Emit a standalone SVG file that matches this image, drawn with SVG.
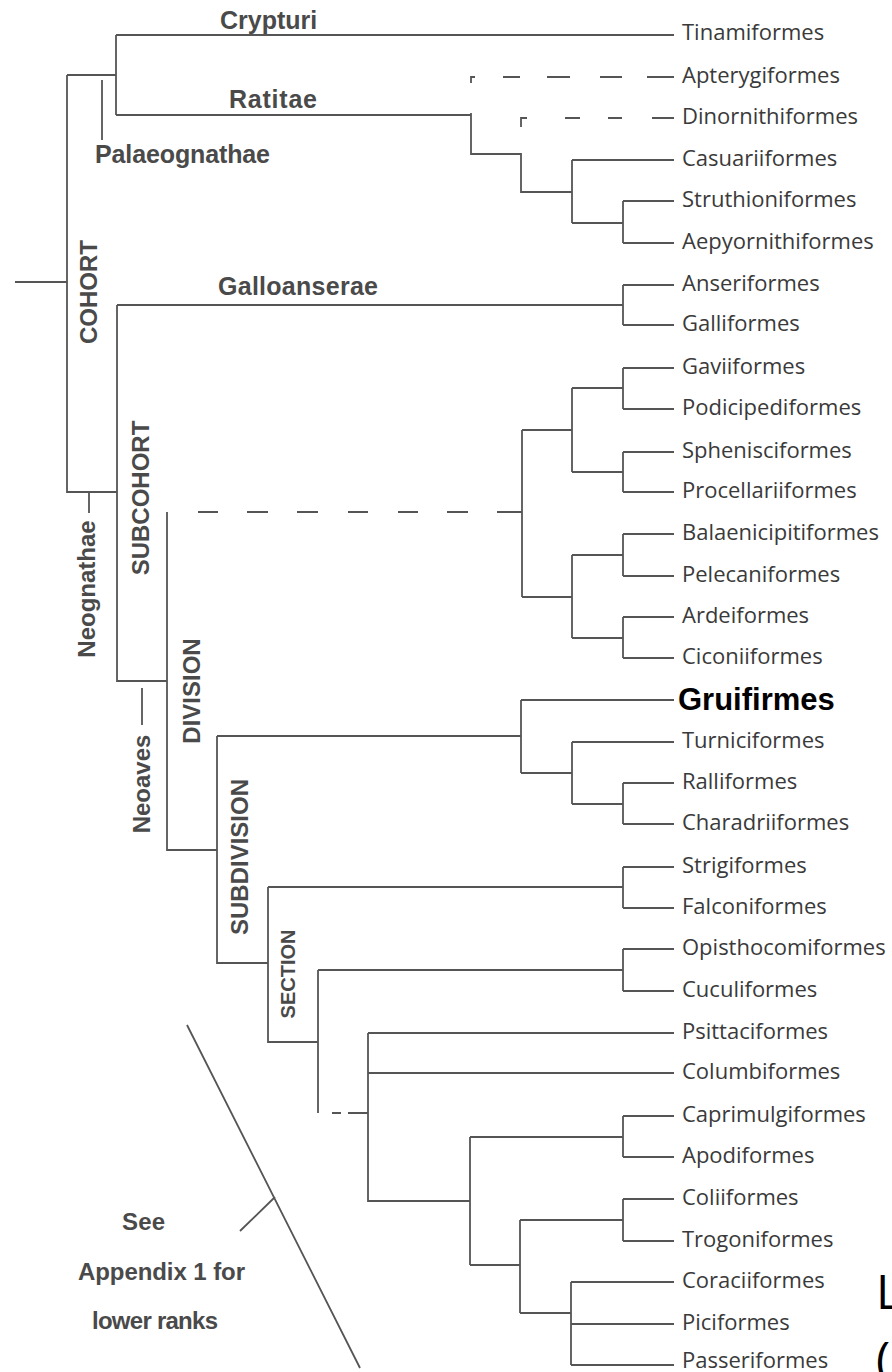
<svg xmlns="http://www.w3.org/2000/svg" width="892" height="1372" viewBox="0 0 892 1372">
<style>
.ln{stroke:#555;stroke-width:1.8;fill:none;stroke-linecap:butt}
.leaf{font-family:"Open Sans","Liberation Sans",sans-serif;font-size:22px;fill:#3a3a3a}
.rank{font-family:"Liberation Sans",Arial,sans-serif;font-weight:bold;font-size:24px;fill:#4a4a4a}
.rankh{font-family:"Liberation Sans",Arial,sans-serif;font-weight:bold;font-size:25px;fill:#4a4a4a}
.big{font-family:"Open Sans","Liberation Sans",sans-serif;font-size:48px;fill:#000}
</style>
<rect width="892" height="1372" fill="#fff"/>
<g id="connectors" class="ln">
<path d="M15,282 H67 M67,75 H116 M67,75 V492 H117 M116,35 V115 M116,35 H674 M116,115 H471 M102,80 V140"/>
<path d="M471,83 V77 H475 M503,77 H520 M547,77 H570 M600,77 H622 M647,77 H674"/>
<path d="M471,113 V154 H521 M521,127 V118 H527 M565,118 H580 M608,118 H622 M652,118 H674"/>
<path d="M521,153 V192 H572 M572,160 V223 M572,160 H674 M572,223 H623 M623,201 V243 M623,201 H674 M623,243 H674"/>
<path d="M117,305 V681 H167 M117,305 H623 M623,285 V325 M623,285 H674 M623,325 H674"/>
<path d="M89,493 V513 M142,688 V725"/>
<path d="M167,512 V850 H217 M198,512 H218 M247,512 H268 M297,512 H318 M348,512 H368 M398,512 H418 M447,512 H468 M497,512 H522"/>
<path d="M522,430 V597 M522,430 H572 M522,597 H572 M572,388 V472 M572,388 H623 M572,472 H623 M623,368 V409 M623,452 V492 M623,368 H674 M623,409 H674 M623,452 H674 M623,492 H674"/>
<path d="M572,555 V638 M572,555 H623 M572,638 H623 M623,534 V576 M623,617 V658 M623,534 H674 M623,576 H674 M623,617 H674 M623,658 H674"/>
<path d="M217,736 V963 H268 M217,736 H521 M521,700 V773 M521,700 H674 M521,773 H572 M572,742 V804 M572,742 H674 M572,804 H623 M623,783 V824 M623,783 H674 M623,824 H674"/>
<path d="M268,887 V1042 H318 M268,887 H623 M623,867 V908 M623,867 H674 M623,908 H674"/>
<path d="M318,970 V1113 M318,970 H623 M623,949 V991 M623,949 H674 M623,991 H674 M332,1113 H341 M348,1113 H368"/>
<path d="M368,1033 V1201 H470 M368,1033 H674 M368,1073 H674"/>
<path d="M470,1137 V1265 M470,1137 H623 M623,1116 V1157 M623,1116 H674 M623,1157 H674"/>
<path d="M470,1265 H520 M520,1220 V1313 M520,1220 H623 M623,1199 V1241 M623,1199 H674 M623,1241 H674"/>
<path d="M520,1313 H571 M571,1282 V1365 M571,1282 H674 M571,1324 H674 M571,1365 H674"/>
<path d="M187,1025 L360,1368 M275,1197 L240,1231"/>
</g>
<g id="ranks">
<g id="crypturi"><text class="rankh" x="220" y="29">Crypturi</text></g>
<g id="ratitae"><text class="rankh" x="229" y="108" textLength="88">Ratitae</text></g>
<g id="palaeognathae"><text class="rankh" x="95" y="163" textLength="175">Palaeognathae</text></g>
<g id="galloanserae"><text class="rankh" x="218" y="295" textLength="160">Galloanserae</text></g>
<g id="cohort"><text class="rank" text-anchor="middle" transform="translate(97,292) rotate(-90)">COHORT</text></g>
<g id="neognathae"><text class="rank" text-anchor="middle" transform="translate(95,589) rotate(-90)">Neognathae</text></g>
<g id="subcohort"><text class="rank" text-anchor="middle" transform="translate(149,498) rotate(-90)">SUBCOHORT</text></g>
<g id="neoaves"><text class="rank" text-anchor="middle" transform="translate(150,784) rotate(-90)">Neoaves</text></g>
<g id="division"><text class="rank" text-anchor="middle" transform="translate(200,691) rotate(-90)">DIVISION</text></g>
<g id="subdivision"><text class="rank" text-anchor="middle" transform="translate(248,857) rotate(-90)">SUBDIVISION</text></g>
<g id="section"><text class="rank" style="font-size:20px" text-anchor="middle" transform="translate(295,974) rotate(-90)">SECTION</text></g>
<g id="note">
<text class="rank" x="122" y="1230" textLength="43">See</text>
<text class="rank" x="78" y="1280" textLength="167">Appendix 1 for</text>
<text class="rank" x="92" y="1329" textLength="126">lower ranks</text>
</g>
</g>
<g id="leaves">
<g id="n-tinamiformes"><text class="leaf" x="682" y="40">Tinamiformes</text></g>
<g id="n-apterygiformes"><text class="leaf" x="682" y="83">Apterygiformes</text></g>
<g id="n-dinornithiformes"><text class="leaf" x="682" y="124">Dinornithiformes</text></g>
<g id="n-casuariiformes"><text class="leaf" x="682" y="166">Casuariiformes</text></g>
<g id="n-struthioniformes"><text class="leaf" x="682" y="207">Struthioniformes</text></g>
<g id="n-aepyornithiformes"><text class="leaf" x="682" y="249">Aepyornithiformes</text></g>
<g id="n-anseriformes"><text class="leaf" x="682" y="291">Anseriformes</text></g>
<g id="n-galliformes"><text class="leaf" x="682" y="331">Galliformes</text></g>
<g id="n-gaviiformes"><text class="leaf" x="682" y="374">Gaviiformes</text></g>
<g id="n-podicipediformes"><text class="leaf" x="682" y="415">Podicipediformes</text></g>
<g id="n-sphenisciformes"><text class="leaf" x="682" y="458">Sphenisciformes</text></g>
<g id="n-procellariiformes"><text class="leaf" x="682" y="498">Procellariiformes</text></g>
<g id="n-balaenicipitiformes"><text class="leaf" x="682" y="540">Balaenicipitiformes</text></g>
<g id="n-pelecaniformes"><text class="leaf" x="682" y="582">Pelecaniformes</text></g>
<g id="n-ardeiformes"><text class="leaf" x="682" y="623">Ardeiformes</text></g>
<g id="n-ciconiiformes"><text class="leaf" x="682" y="664">Ciconiiformes</text></g>
<g id="n-gruifirmes"><text x="678" y="710" style="font-family:'Liberation Sans',Arial,sans-serif;font-weight:bold;font-size:31px;fill:#000">Gruifirmes</text></g>
<g id="n-turniciformes"><text class="leaf" x="682" y="748">Turniciformes</text></g>
<g id="n-ralliformes"><text class="leaf" x="682" y="789">Ralliformes</text></g>
<g id="n-charadriiformes"><text class="leaf" x="682" y="830">Charadriiformes</text></g>
<g id="n-strigiformes"><text class="leaf" x="682" y="873">Strigiformes</text></g>
<g id="n-falconiformes"><text class="leaf" x="682" y="914">Falconiformes</text></g>
<g id="n-opisthocomiformes"><text class="leaf" x="682" y="955">Opisthocomiformes</text></g>
<g id="n-cuculiformes"><text class="leaf" x="682" y="997">Cuculiformes</text></g>
<g id="n-psittaciformes"><text class="leaf" x="682" y="1039">Psittaciformes</text></g>
<g id="n-columbiformes"><text class="leaf" x="682" y="1079">Columbiformes</text></g>
<g id="n-caprimulgiformes"><text class="leaf" x="682" y="1122">Caprimulgiformes</text></g>
<g id="n-apodiformes"><text class="leaf" x="682" y="1163">Apodiformes</text></g>
<g id="n-coliiformes"><text class="leaf" x="682" y="1205">Coliiformes</text></g>
<g id="n-trogoniformes"><text class="leaf" x="682" y="1247">Trogoniformes</text></g>
<g id="n-coraciiformes"><text class="leaf" x="682" y="1288">Coraciiformes</text></g>
<g id="n-piciformes"><text class="leaf" x="682" y="1330">Piciformes</text></g>
<g id="n-passeriformes"><text class="leaf" x="682" y="1368">Passeriformes</text></g>
</g>
<g id="edge-text">
<text class="big" x="876" y="1309">L</text>
<text class="big" x="876" y="1376">(</text>
</g>
</svg>
